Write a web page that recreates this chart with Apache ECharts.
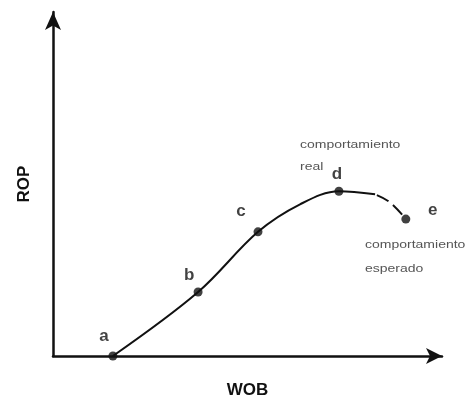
<!DOCTYPE html>
<html>
<head>
<meta charset="utf-8">
<script src="https://cdn.jsdelivr.net/npm/echarts@6/dist/echarts.min.js"></script>
<style>
    html, body { margin: 0; padding: 0; background: #fff; }
    #chart { width: 468px; height: 404px; }
</style>
</head>
<body>
<div id="chart"></div>
<script>
    // curva real (a -> d), valores WOB / ROP en unidades relativas 0-100
    const realWob = [15.4, 37.3, 52.7, 63.5, 73.5, 82.8];
    const realRop = [0, 18.6, 36.1, 44.1, 47.9, 47.0];
    // tramo esperado (discontinuo) hasta e
    const expWob = [82.8, 86.6, 90.7];
    const expRop = [47.0, 44.7, 39.8];
    // puntos marcados
    const pointNames = ['a', 'b', 'c', 'd', 'e'];
    const pointWob = [15.4, 37.3, 52.7, 73.5, 90.7];
    const pointRop = [0, 18.6, 36.1, 47.9, 39.8];

    const font = '"Liberation Sans", Arial, sans-serif';
    const labelPos = {
        a: [-9, -20], b: [-9, -17], c: [-17, -21], d: [-2, -17], e: [27, -9]
    };

    const chart = echarts.init(document.getElementById('chart'));
    chart.setOption({
        animation: false,
        backgroundColor: '#fff',
        grid: { left: 53, right: 26, top: 12, bottom: 43 },
        xAxis: {
            type: 'value', min: 0, max: 100,
            name: 'WOB', nameLocation: 'middle', nameGap: 26,
            nameTextStyle: { fontFamily: font, fontWeight: 'bold', fontSize: 17, color: '#111' },
            axisLine: { lineStyle: { color: '#111', width: 2.5 }, symbol: ['none', 'arrow'], symbolSize: [12, 16] },
            axisTick: { show: false }, axisLabel: { show: false }, splitLine: { show: false }
        },
        yAxis: {
            type: 'value', min: 0, max: 100,
            name: 'ROP', nameLocation: 'middle', nameGap: 20, nameRotate: 90,
            nameTextStyle: { fontFamily: font, fontWeight: 'bold', fontSize: 17, color: '#111' },
            axisLine: { lineStyle: { color: '#111', width: 2.5 }, symbol: ['none', 'arrow'], symbolSize: [12, 18] },
            axisTick: { show: false }, axisLabel: { show: false }, splitLine: { show: false }
        },
        series: [
            {
                type: 'line', smooth: 0.35, showSymbol: false,
                data: realWob.map((x, i) => [x, realRop[i]]),
                lineStyle: { color: '#111', width: 2 }
            },
            {
                type: 'line', smooth: 0.4, showSymbol: false,
                data: expWob.map((x, i) => [x, expRop[i]]),
                lineStyle: { color: '#111', width: 2, type: [13, 6], dashOffset: -2 }
            },
            {
                type: 'scatter', symbolSize: 9,
                itemStyle: { color: '#111' },
                data: pointNames.map((n, i) => ({
                    value: [pointWob[i], pointRop[i]], name: n,
                    label: { offset: labelPos[n] }
                })),
                label: {
                    show: true, position: 'inside', formatter: '{b}',
                    fontFamily: font, fontWeight: 'bold', fontSize: 17, color: '#111'
                }
            }
        ],
        graphic: [
            {
                type: 'text', x: 300, y: 134, scaleX: 1.4,
                style: { text: 'comportamiento\nreal', font: '10px ' + font, fill: '#555', lineHeight: 22 }
            },
            {
                type: 'text', x: 365, y: 233, scaleX: 1.4,
                style: { text: 'comportamiento\nesperado', font: '10px ' + font, fill: '#555', lineHeight: 24 }
            }
        ]
    });
</script>
</body>
</html>
